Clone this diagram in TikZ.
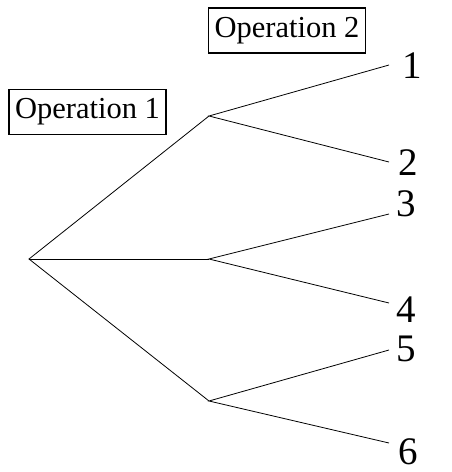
\documentclass[tikz,border=0pt]{standalone}
\usepackage{fontspec}
\setmainfont{Liberation Serif}
\begin{document}
\begin{tikzpicture}[x=1pt,y=-1pt,
  opbox/.style={draw,line width=1.2pt,inner sep=0pt,minimum width=157pt,minimum height=45pt,font=\fontsize{30.5}{30.5}\selectfont},
  leaf/.style={inner sep=0pt,font=\fontsize{39}{39}\selectfont},
  branch/.style={line width=0.8pt}]
\useasboundingbox (0,0) rectangle (452,472);
\node[opbox] (op1) at (87.5,112) {Operation 1};
\node[opbox] (op2) at (287,30.5) {Operation 2};
\coordinate (r) at (29,259);
\coordinate (a) at (209,116);
\coordinate (b) at (209,259);
\coordinate (c) at (209,401);
\coordinate (e1) at (389,65);
\coordinate (e2) at (389,162);
\coordinate (e3) at (389,214);
\coordinate (e4) at (389,303);
\coordinate (e5) at (389,350);
\coordinate (e6) at (389,443);
\node[leaf] (l1) at (412,65.5) {1};
\node[leaf] (l2) at (408,163) {2};
\node[leaf] (l3) at (406,204) {3};
\node[leaf] (l4) at (406,309.5) {4};
\node[leaf] (l5) at (406,349) {5};
\node[leaf] (l6) at (408,451.5) {6};
\draw[branch] (a) -- (r) -- (c);
\draw[branch] (r) -- (b);
\draw[branch] (e1) -- (a) -- (e2);
\draw[branch] (e3) -- (b) -- (e4);
\draw[branch] (e5) -- (c) -- (e6);
\end{tikzpicture}
\end{document}
